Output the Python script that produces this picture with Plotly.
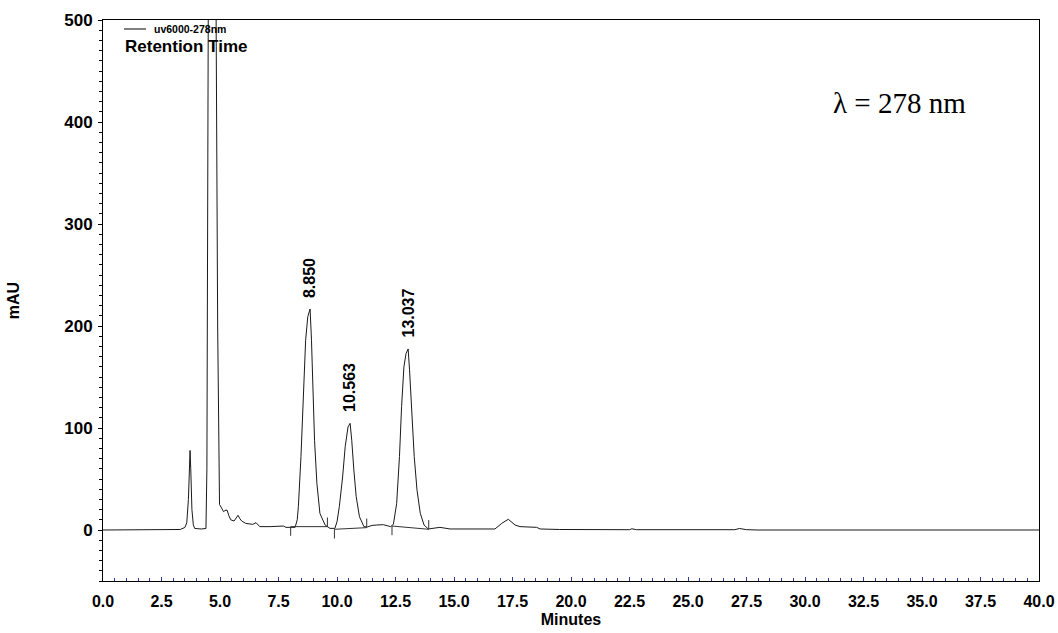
import plotly.graph_objects as go

# ---- chromatogram trace (minutes, mAU) ----
time_min = [0.0, 3.0, 3.3, 3.5, 3.58, 3.65, 3.70, 3.72, 3.75, 3.80, 3.86, 3.92, 4.2, 4.40,
            4.44, 4.47, 4.50, 4.58, 4.66, 4.75, 4.83, 4.90, 4.95, 4.98, 5.07, 5.15, 5.21, 5.30,
            5.38, 5.46, 5.60, 5.70, 5.77, 5.85, 5.93, 6.10, 6.21, 6.40, 6.54, 6.62, 6.70, 7.14,
            7.50, 7.71, 7.82, 8.21, 8.30, 8.35, 8.46, 8.56, 8.66, 8.75, 8.85, 8.91, 8.97, 9.04,
            9.14, 9.27, 9.49, 9.70, 9.91, 10.0, 10.10, 10.24, 10.35, 10.47, 10.56, 10.63, 10.72,
            10.82, 10.96, 11.15, 11.30, 11.50, 11.70, 11.98, 12.29, 12.41, 12.55, 12.67, 12.76,
            12.86, 12.95, 13.04, 13.10, 13.20, 13.30, 13.42, 13.56, 13.72, 13.90, 14.40, 14.83,
            16.75, 17.04, 17.32, 17.61, 17.82, 18.53, 18.68, 19.5, 22.5, 22.6, 22.8, 27.0,
            27.2, 27.5, 28.0, 40.0]
absorbance = [0.0, 0.0, 0.5, 2.5, 7, 30, 70, 78, 60, 20, 5, 1.5, 1.0, 1.5,
              60, 300, 520, 680, 720, 680, 520, 200, 60, 25, 21.5, 18, 19, 19.6,
              14, 10, 8.8, 12, 14.4, 11, 8.8, 6.5, 5.9, 5.5, 7.2, 5, 3.3, 3.3,
              3.6, 3.9, 2.6, 2.6, 10, 22.9, 71.9, 127.5, 186, 209, 216.7, 186, 137, 88,
              45.8, 16.3, 4.9, 1.6, 1.6, 8, 22.9, 52, 81.7, 101, 104.6, 88, 58.8,
              32.7, 13, 3.3, 3.0, 4.5, 4.9, 5.2, 3.3, 5.6, 26, 72, 121,
              160, 173, 177.5, 157, 114, 72, 39, 16.3, 4.9, 1.0, 2.6, 1.0,
              1.0, 6.5, 10.5, 4.9, 3.3, 2.6, 1.0, 0.5, 0.3, 1.2, 0.3, 0.3,
              1.5, 0.3, 0.0, 0.0]

# ---- labelled peaks ----
peak_rt = [8.850, 10.563, 13.037]
peak_height = [216.7, 104.6, 177.5]
peak_labels = ["8.850", "10.563", "13.037"]

# ---- integration baselines ----
int_start_t = [8.02, 9.89, 12.35]
int_start_v = [3.3, 0.7, 3.9]
int_end_t = [9.59, 11.27, 13.92]
int_end_v = [3.3, 2.3, 0.7]

x_ticks = [0.0, 2.5, 5.0, 7.5, 10.0, 12.5, 15.0, 17.5, 20.0, 22.5, 25.0, 27.5,
           30.0, 32.5, 35.0, 37.5, 40.0]
y_ticks = [0, 100, 200, 300, 400, 500]

TICK_LEN = 9  # mAU, length of integration marks
FONT = "Liberation Sans, Arial"

fig = go.Figure()
fig.add_trace(go.Scatter(x=time_min, y=absorbance, mode="lines",
                         line=dict(color="#1a1a1a", width=1), name="uv6000-278nm",
                         showlegend=False, hoverinfo="skip"))

# baselines
bx, by = [], []
for s, sv, e, ev in zip(int_start_t, int_start_v, int_end_t, int_end_v):
    bx += [s, e, None]
    by += [sv, ev, None]
fig.add_trace(go.Scatter(x=bx, y=by, mode="lines", line=dict(color="#333", width=1),
                         showlegend=False, hoverinfo="skip"))
# tick marks
tx, ty = [], []
for s, sv in zip(int_start_t, int_start_v):
    tx += [s, s, None]
    ty += [sv, sv - TICK_LEN, None]
for e, ev in zip(int_end_t, int_end_v):
    tx += [e, e, None]
    ty += [ev, ev + TICK_LEN, None]
fig.add_trace(go.Scatter(x=tx, y=ty, mode="lines", line=dict(color="#333", width=1),
                         showlegend=False, hoverinfo="skip"))

for rt, h, lab in zip(peak_rt, peak_height, peak_labels):
    fig.add_annotation(x=rt, y=h, text="<b>" + lab + "</b>", textangle=-90, showarrow=False,
                       yanchor="bottom", xanchor="center", yshift=9,
                       font=dict(family=FONT, size=16, color="black"))

# legend-like header
PLOT_H = 561
PLOT_W = 936
fig.add_shape(type="line", xref="paper", yref="paper", x0=21 / PLOT_W, x1=43 / PLOT_W,
              y0=1 - 9 / PLOT_H, y1=1 - 9 / PLOT_H, line=dict(color="black", width=1))
fig.add_annotation(xref="paper", yref="paper", x=49 / PLOT_W, y=1 - 9 / PLOT_H,
                   text="<b>uv6000-278nm</b>",
                   showarrow=False, xanchor="left", yanchor="middle",
                   font=dict(family=FONT, size=10.5, color="black"))
fig.add_annotation(xref="paper", yref="paper", x=20 / PLOT_W, y=1 - 27 / PLOT_H,
                   text="<b>Retention Time</b>",
                   showarrow=False, xanchor="left", yanchor="middle",
                   font=dict(family=FONT, size=17, color="black"))
fig.add_annotation(xref="paper", yref="paper", x=(899 - 103) / PLOT_W, y=1 - 83 / PLOT_H,
                   text="\u03bb = 278 nm", showarrow=False, xanchor="center", yanchor="middle",
                   font=dict(family="Liberation Serif, Times New Roman", size=29, color="black"))

fig.update_layout(
    width=1058, height=633,
    margin=dict(l=103, r=19, t=20, b=52, autoexpand=False),
    plot_bgcolor="white", paper_bgcolor="white",
    font=dict(family=FONT, color="black"),
    showlegend=False,
)
fig.update_xaxes(range=[0, 40], tickvals=x_ticks, ticktext=[f"<b>{v:.1f}</b>" for v in x_ticks],
                 showgrid=False, zeroline=False, showline=True, linecolor="black", linewidth=1,
                 mirror=True, ticks="inside", ticklen=4, tickcolor="#2b3a9a",
                 minor=dict(dtick=0.5, ticks="inside", ticklen=3, tickcolor="#2b3a9a", showgrid=False),
                 tickfont=dict(size=16, family=FONT), ticklabelstandoff=6,
                 title=dict(text="<b>Minutes</b>", font=dict(size=16), standoff=4))
fig.update_yaxes(range=[-50, 500], tickvals=y_ticks, ticktext=[f"<b>{v}</b>" for v in y_ticks],
                 showgrid=False, zeroline=False, showline=True, linecolor="black", linewidth=1,
                 mirror=True, ticks="outside", ticklen=4, tickcolor="black",
                 minor=dict(dtick=10, ticks="outside", ticklen=3, tickcolor="black", showgrid=False),
                 tickfont=dict(size=17, family=FONT), ticklabelstandoff=2,
                 title=dict(text="<b>mAU</b>", font=dict(size=16), standoff=40))

fig.write_html("out.html")
